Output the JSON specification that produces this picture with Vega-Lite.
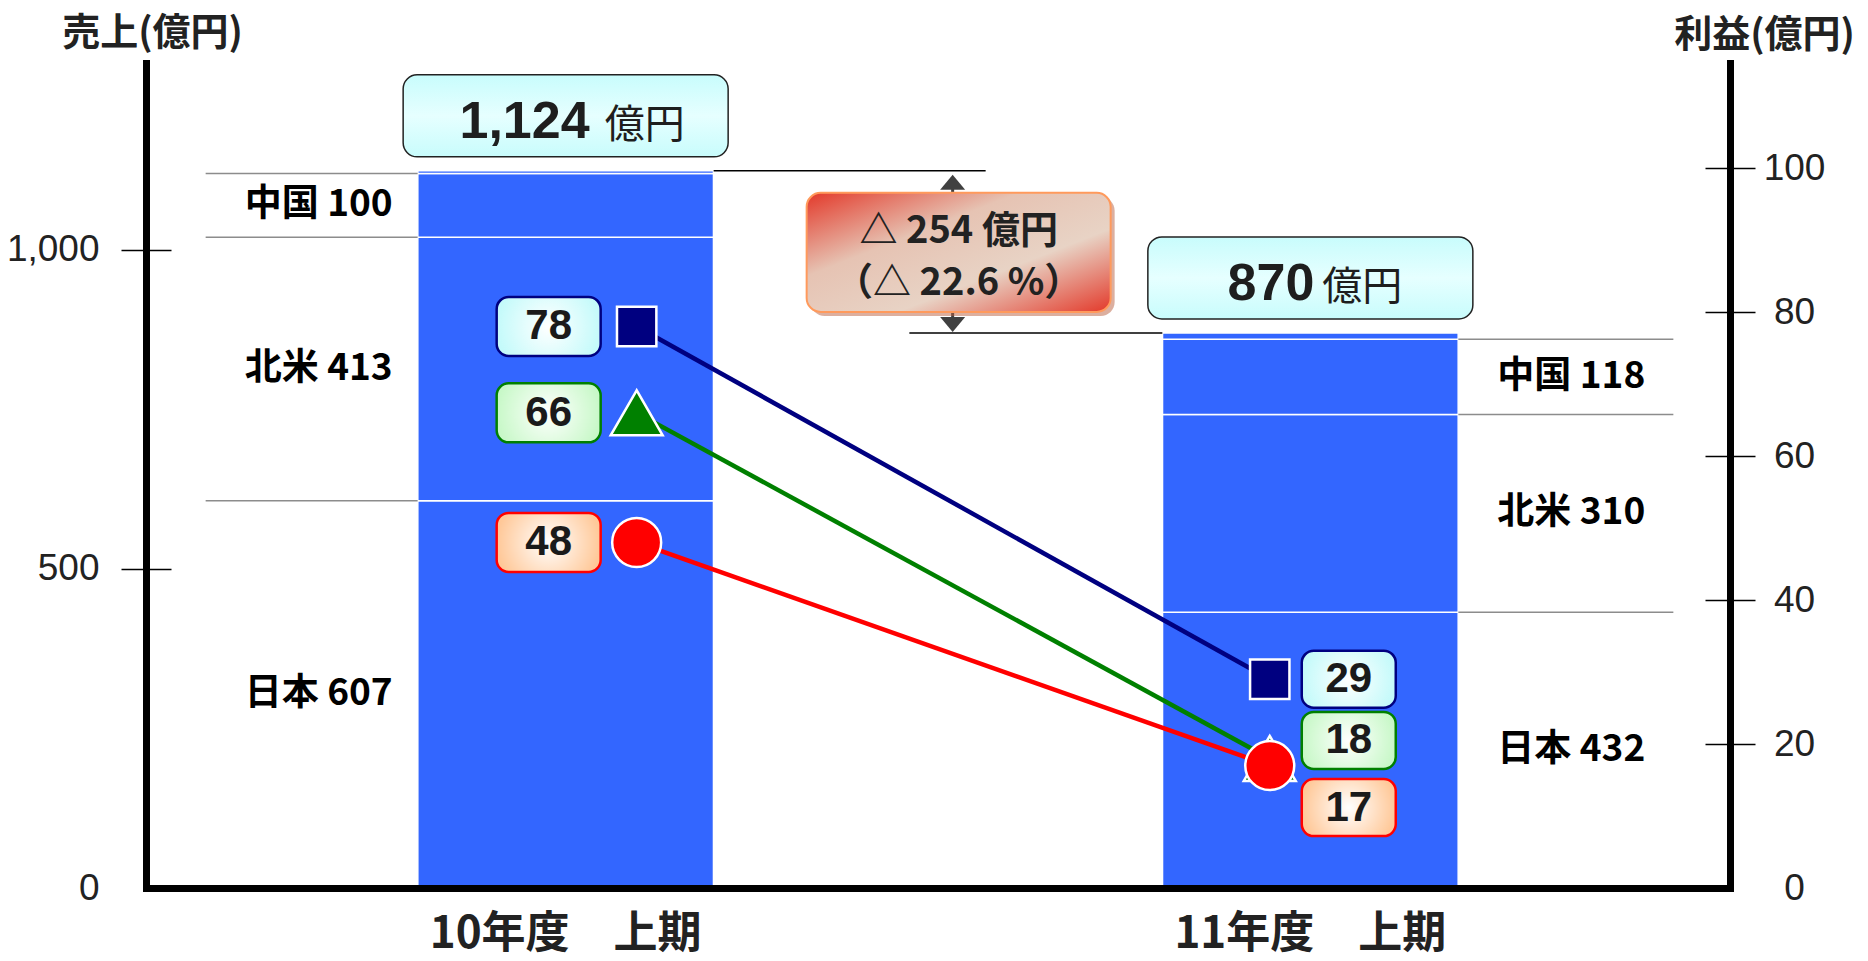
{
  "$schema": "https://vega.github.io/schema/vega-lite/v6.json",
  "width": 1584,
  "height": 825,
  "autosize": {"type": "none"},
  "padding": {"left": 146, "top": 63, "right": 138, "bottom": 73},
  "background": "white",
  "config": {"view": {"stroke": null}, "axis": {"grid": false}},
  "datasets": {
    "sales": [
      {"period": "10年度　上期", "region": "日本", "sales": 607, "ord": 1, "label": "日本 607"},
      {"period": "10年度　上期", "region": "北米", "sales": 413, "ord": 2, "label": "北米 413"},
      {"period": "10年度　上期", "region": "中国", "sales": 100, "ord": 3, "label": "中国 100"},
      {"period": "10年度　上期", "region": "その他", "sales": 4, "ord": 4, "label": ""},
      {"period": "11年度　上期", "region": "日本", "sales": 432, "ord": 1, "label": "日本 432"},
      {"period": "11年度　上期", "region": "北米", "sales": 310, "ord": 2, "label": "北米 310"},
      {"period": "11年度　上期", "region": "中国", "sales": 118, "ord": 3, "label": "中国 118"},
      {"period": "11年度　上期", "region": "その他", "sales": 10, "ord": 4, "label": ""}
    ],
    "totals": [
      {"period": "10年度　上期", "total": 1124, "num": "1,124", "unit": "億円"},
      {"period": "11年度　上期", "total": 870, "num": "870", "unit": "億円"}
    ],
    "delta": [
      {"period": "10年度　上期", "prev": 1124, "curr": 870, "label": "△ 254 億円\n（△ 22.6 %）"}
    ],
    "profit": [
      {"period": "10年度　上期", "series": "営業利益", "profit": 78},
      {"period": "10年度　上期", "series": "経常利益", "profit": 66},
      {"period": "10年度　上期", "series": "当期純利益", "profit": 48},
      {"period": "11年度　上期", "series": "営業利益", "profit": 29},
      {"period": "11年度　上期", "series": "経常利益", "profit": 18},
      {"period": "11年度　上期", "series": "当期純利益", "profit": 17}
    ]
  },
  "layer": [
    {
      "resolve": {"axis": {"y": "independent", "x": "shared"}},
      "layer": [
        {
          "data": {"name": "sales"},
          "mark": {"type": "bar", "fill": "#3366ff", "stroke": "white", "strokeWidth": 1.5},
          "encoding": {
            "x": {"field": "period", "type": "nominal",
              "scale": {"type": "band", "paddingInner": 0.603, "paddingOuter": 0.365},
              "axis": {"title": null, "orient": "bottom", "domainWidth": 7, "domainColor": "black", "domainCap": "square", "ticks": false,
                "labelFont": "Noto Sans CJK JP", "labelFontSize": 44, "labelFontWeight": "bold", "labelColor": "#222", "labelPadding": 24, "labelAngle": 0, "labelLimit": 0, "zindex": 2}},
            "y": {"field": "sales", "type": "quantitative", "stack": "zero",
              "scale": {"domain": [0, 1293], "nice": false},
              "axis": {"orient": "left", "values": [0, 500, 1000], "format": ",d", "ticks": false, "grid": false,
                "domainWidth": 7, "domainColor": "black", "domainCap": "square",
                "labelFont": "Liberation Sans", "labelFontSize": 37, "labelColor": "#222", "labelPadding": 47,
                "title": "売上(億円)", "titleAngle": 0, "titleX": 6, "titleY": -30, "titleAlign": "center", "titleBaseline": "middle",
                "titleFont": "Noto Sans CJK JP", "titleFontSize": 38, "titleFontWeight": "bold", "titleColor": "#222", "zindex": 2}},
            "detail": {"field": "region"},
            "order": {"field": "ord", "type": "quantitative"}
          }
        },
        {
          "data": {"name": "sales"},
          "transform": [
            {"stack": "sales", "groupby": ["period"], "sort": [{"field": "ord", "order": "ascending"}], "as": ["s0", "s1"]},
            {"filter": {"field": "period", "equal": "10年度　上期"}},
            {"filter": {"field": "region", "oneOf": ["日本", "北米", "中国"]}}
          ],
          "mark": {"type": "rule", "color": "#8c8c8c", "strokeWidth": 1.5, "xOffset": -360, "x2Offset": -148},
          "encoding": {
            "x": {"field": "period", "type": "nominal"},
            "x2": {"field": "period"},
            "y": {"field": "s1", "type": "quantitative", "scale": {"domain": [0, 1293], "nice": false},
              "axis": {"orient": "left", "values": [500, 1000], "offset": -25, "tickSize": 50, "tickWidth": 1.5, "tickColor": "black",
                "domain": false, "labels": false, "title": null, "grid": false, "zindex": 2}}
          }
        },
        {
          "data": {"name": "sales"},
          "transform": [
            {"stack": "sales", "groupby": ["period"], "sort": [{"field": "ord", "order": "ascending"}], "as": ["s0", "s1"]},
            {"filter": {"field": "period", "equal": "11年度　上期"}},
            {"filter": {"field": "region", "oneOf": ["日本", "北米", "中国"]}}
          ],
          "mark": {"type": "rule", "color": "#8c8c8c", "strokeWidth": 1.5, "xOffset": 148, "x2Offset": 363},
          "encoding": {
            "x": {"field": "period", "type": "nominal"},
            "x2": {"field": "period"},
            "y": {"field": "s1", "type": "quantitative", "scale": {"domain": [0, 1293], "nice": false}, "axis": null}
          }
        },
        {
          "data": {"name": "sales"},
          "transform": [{"filter": {"field": "period", "equal": "10年度　上期"}}],
          "mark": {"type": "text", "align": "right", "baseline": "middle", "xOffset": -173, "font": "Noto Sans CJK JP", "fontSize": 37, "fontWeight": "bold", "color": "#000"},
          "encoding": {
            "x": {"field": "period", "type": "nominal"},
            "y": {"field": "sales", "type": "quantitative", "stack": "zero", "bandPosition": 0.5, "scale": {"domain": [0, 1293], "nice": false}, "axis": null},
            "detail": {"field": "region"},
            "order": {"field": "ord", "type": "quantitative"},
            "text": {"field": "label"}
          }
        },
        {
          "data": {"name": "sales"},
          "transform": [{"filter": {"field": "period", "equal": "11年度　上期"}}],
          "mark": {"type": "text", "align": "left", "baseline": "middle", "xOffset": 187, "font": "Noto Sans CJK JP", "fontSize": 37, "fontWeight": "bold", "color": "#000"},
          "encoding": {
            "x": {"field": "period", "type": "nominal"},
            "y": {"field": "sales", "type": "quantitative", "stack": "zero", "bandPosition": 0.5, "scale": {"domain": [0, 1293], "nice": false}, "axis": null},
            "detail": {"field": "region"},
            "order": {"field": "ord", "type": "quantitative"},
            "text": {"field": "label"}
          }
        },
        {
          "data": {"name": "totals"},
          "transform": [{"filter": {"field": "period", "equal": "10年度　上期"}}],
          "mark": {"type": "rule", "color": "#000", "strokeWidth": 1.5, "xOffset": 148, "x2Offset": 420},
          "encoding": {
            "x": {"field": "period", "type": "nominal"},
            "x2": {"field": "period"},
            "y": {"field": "total", "type": "quantitative", "scale": {"domain": [0, 1293], "nice": false}, "axis": null}
          }
        },
        {
          "data": {"name": "totals"},
          "transform": [{"filter": {"field": "period", "equal": "11年度　上期"}}],
          "mark": {"type": "rule", "color": "#000", "strokeWidth": 1.5, "xOffset": -401, "x2Offset": -148},
          "encoding": {
            "x": {"field": "period", "type": "nominal"},
            "x2": {"field": "period"},
            "y": {"field": "total", "type": "quantitative", "scale": {"domain": [0, 1293], "nice": false}, "axis": null}
          }
        },
        {
          "data": {"name": "totals"},
          "mark": {"type": "rect", "width": 325, "height": 82, "yOffset": -55, "cornerRadius": 14, "stroke": "#222", "strokeWidth": 1.5,
            "fill": {"gradient": "linear", "x1": 0, "y1": 0, "x2": 0, "y2": 1, "stops": [{"offset": 0, "color": "#c8fcfc"}, {"offset": 0.5, "color": "#e6ffff"}, {"offset": 1, "color": "#c8fcfc"}]}},
          "encoding": {
            "x": {"field": "period", "type": "nominal"},
            "y": {"field": "total", "type": "quantitative", "scale": {"domain": [0, 1293], "nice": false}, "axis": null}
          }
        },
        {
          "data": {"name": "totals"},
          "transform": [{"filter": {"field": "period", "equal": "10年度　上期"}}],
          "mark": {"type": "text", "align": "right", "baseline": "alphabetic", "xOffset": 24, "yOffset": -33, "font": "Liberation Sans Narrow, Liberation Sans", "fontSize": 52, "fontWeight": "bold", "color": "#1e1e1e"},
          "encoding": {
            "x": {"field": "period", "type": "nominal"},
            "y": {"field": "total", "type": "quantitative", "scale": {"domain": [0, 1293], "nice": false}, "axis": null},
            "text": {"field": "num"}
          }
        },
        {
          "data": {"name": "totals"},
          "transform": [{"filter": {"field": "period", "equal": "11年度　上期"}}],
          "mark": {"type": "text", "align": "right", "baseline": "alphabetic", "xOffset": 4, "yOffset": -33, "font": "Liberation Sans Narrow, Liberation Sans", "fontSize": 52, "fontWeight": "bold", "color": "#1e1e1e"},
          "encoding": {
            "x": {"field": "period", "type": "nominal"},
            "y": {"field": "total", "type": "quantitative", "scale": {"domain": [0, 1293], "nice": false}, "axis": null},
            "text": {"field": "num"}
          }
        },
        {
          "data": {"name": "totals"},
          "transform": [{"filter": {"field": "period", "equal": "10年度　上期"}}],
          "mark": {"type": "text", "align": "left", "baseline": "alphabetic", "xOffset": 39, "yOffset": -33, "font": "Noto Sans CJK JP", "fontSize": 40, "color": "#1e1e1e"},
          "encoding": {
            "x": {"field": "period", "type": "nominal"},
            "y": {"field": "total", "type": "quantitative", "scale": {"domain": [0, 1293], "nice": false}, "axis": null},
            "text": {"field": "unit"}
          }
        },
        {
          "data": {"name": "totals"},
          "transform": [{"filter": {"field": "period", "equal": "11年度　上期"}}],
          "mark": {"type": "text", "align": "left", "baseline": "alphabetic", "xOffset": 12, "yOffset": -33, "font": "Noto Sans CJK JP", "fontSize": 40, "color": "#1e1e1e"},
          "encoding": {
            "x": {"field": "period", "type": "nominal"},
            "y": {"field": "total", "type": "quantitative", "scale": {"domain": [0, 1293], "nice": false}, "axis": null},
            "text": {"field": "unit"}
          }
        },
        {
          "data": {"name": "delta"},
          "mark": {"type": "rule", "color": "#404040", "strokeWidth": 3, "xOffset": 387, "yOffset": 14, "y2Offset": -10},
          "encoding": {
            "x": {"field": "period", "type": "nominal"},
            "y": {"field": "prev", "type": "quantitative", "scale": {"domain": [0, 1293], "nice": false}, "axis": null},
            "y2": {"field": "curr"}
          }
        },
        {
          "data": {"name": "delta"},
          "mark": {"type": "point", "shape": "M0,-0.6L1,0.6L-1,0.6Z", "size": 625, "filled": true, "fill": "#404040", "strokeWidth": 0, "opacity": 1, "xOffset": 387, "yOffset": 11.5},
          "encoding": {
            "x": {"field": "period", "type": "nominal"},
            "y": {"field": "prev", "type": "quantitative", "scale": {"domain": [0, 1293], "nice": false}, "axis": null}
          }
        },
        {
          "data": {"name": "delta"},
          "mark": {"type": "point", "shape": "M0,0.6L1,-0.6L-1,-0.6Z", "size": 625, "filled": true, "fill": "#404040", "strokeWidth": 0, "opacity": 1, "xOffset": 387, "yOffset": -8.5},
          "encoding": {
            "x": {"field": "period", "type": "nominal"},
            "y": {"field": "curr", "type": "quantitative", "scale": {"domain": [0, 1293], "nice": false}, "axis": null}
          }
        },
        {
          "data": {"name": "delta"},
          "mark": {"type": "rect", "width": 304, "xOffset": 397, "yOffset": 26, "y2Offset": -17, "cornerRadius": 14, "fill": "#b9603f", "opacity": 0.5},
          "encoding": {
            "x": {"field": "period", "type": "nominal"},
            "y": {"field": "prev", "type": "quantitative", "scale": {"domain": [0, 1293], "nice": false}, "axis": null},
            "y2": {"field": "curr"}
          }
        },
        {
          "data": {"name": "delta"},
          "mark": {"type": "rect", "width": 304, "xOffset": 393, "yOffset": 22, "y2Offset": -21, "cornerRadius": 14, "stroke": "#ff9a5c", "strokeWidth": 2,
            "fill": {"gradient": "linear", "x1": 0, "y1": 0, "x2": 1, "y2": 1, "stops": [{"offset": 0, "color": "#e3392a"}, {"offset": 0.35, "color": "#e6c3b3"}, {"offset": 0.65, "color": "#e8d3c5"}, {"offset": 1, "color": "#e3392a"}]}},
          "encoding": {
            "x": {"field": "period", "type": "nominal"},
            "y": {"field": "prev", "type": "quantitative", "scale": {"domain": [0, 1293], "nice": false}, "axis": null},
            "y2": {"field": "curr"}
          }
        },
        {
          "data": {"name": "delta"},
          "mark": {"type": "text", "align": "center", "baseline": "middle", "lineBreak": "\n", "lineHeight": 52, "xOffset": 393, "yOffset": 61, "font": "Noto Sans CJK JP", "fontSize": 38, "fontWeight": "bold", "color": "#222"},
          "encoding": {
            "x": {"field": "period", "type": "nominal"},
            "y": {"field": "prev", "type": "quantitative", "scale": {"domain": [0, 1293], "nice": false}, "axis": null},
            "text": {"field": "label"}
          }
        }
      ]
    },
    {
      "resolve": {"axis": {"y": "independent"}},
      "layer": [
        {
          "data": {"name": "profit"},
          "mark": {"type": "line", "strokeWidth": 4.5},
          "encoding": {
            "x": {"field": "period", "type": "nominal", "scale": {"type": "point", "padding": 0.751, "align": 0.516}, "axis": null},
            "y": {"field": "profit", "type": "quantitative", "scale": {"domain": [0, 114.6], "nice": false},
              "axis": {"orient": "right", "values": [20, 40, 60, 80, 100], "offset": -25, "tickSize": 50, "tickWidth": 1.5, "tickColor": "black",
                "domain": false, "labels": false, "title": null, "grid": false, "zindex": 2}},
            "color": {"field": "series", "type": "nominal", "scale": {"domain": ["営業利益", "経常利益", "当期純利益"], "range": ["#000080", "#008000", "#ff0000"]}, "legend": null}
          }
        },
        {
          "data": {"name": "profit"},
          "mark": {"type": "point", "filled": true, "stroke": "white", "strokeWidth": 2.5, "opacity": 1},
          "encoding": {
            "x": {"field": "period", "type": "nominal", "axis": null},
            "y": {"field": "profit", "type": "quantitative", "scale": {"domain": [0, 114.6], "nice": false},
              "axis": {"orient": "right", "values": [0, 20, 40, 60, 80, 100], "ticks": false, "grid": false,
                "domainWidth": 7, "domainColor": "black", "domainCap": "square",
                "labelFont": "Liberation Sans", "labelFontSize": 37, "labelColor": "#222", "labelPadding": 64, "labelAlign": "center",
                "title": "利益(億円)", "titleAngle": 0, "titleX": 34, "titleY": -28, "titleAlign": "center", "titleBaseline": "middle",
                "titleFont": "Noto Sans CJK JP", "titleFontSize": 38, "titleFontWeight": "bold", "titleColor": "#222", "zindex": 2}},
            "color": {"field": "series", "type": "nominal", "scale": {"domain": ["営業利益", "経常利益", "当期純利益"], "range": ["#000080", "#008000", "#ff0000"]}, "legend": null},
            "shape": {"field": "series", "type": "nominal", "scale": {"type": "ordinal", "domain": ["営業利益", "経常利益", "当期純利益"], "range": ["square", "triangle-up", "circle"]}, "legend": null},
            "size": {"field": "series", "type": "nominal", "scale": {"type": "ordinal", "domain": ["営業利益", "経常利益", "当期純利益"], "range": [1550, 2700, 2400]}, "legend": null}
          }
        },
        {
          "data": {"name": "profit"},
          "transform": [{"filter": {"and": [{"field": "period", "equal": "10年度　上期"}, {"field": "series", "equal": "営業利益"}]}}],
          "mark": {"type": "rect", "width": 104, "height": 59, "xOffset": -88, "cornerRadius": 12, "stroke": "#000080", "strokeWidth": 2.5,
            "fill": {"gradient": "radial", "stops": [{"offset": 0, "color": "#ffffff"}, {"offset": 1, "color": "#c4fafa"}]}},
          "encoding": {
            "x": {"field": "period", "type": "nominal", "axis": null},
            "y": {"field": "profit", "type": "quantitative", "scale": {"domain": [0, 114.6], "nice": false}, "axis": null}
          }
        },
        {
          "data": {"name": "profit"},
          "transform": [{"filter": {"and": [{"field": "period", "equal": "10年度　上期"}, {"field": "series", "equal": "経常利益"}]}}],
          "mark": {"type": "rect", "width": 104, "height": 59, "xOffset": -88, "cornerRadius": 12, "stroke": "#008000", "strokeWidth": 2.5,
            "fill": {"gradient": "radial", "stops": [{"offset": 0, "color": "#ffffff"}, {"offset": 1, "color": "#c8f8c8"}]}},
          "encoding": {
            "x": {"field": "period", "type": "nominal", "axis": null},
            "y": {"field": "profit", "type": "quantitative", "scale": {"domain": [0, 114.6], "nice": false}, "axis": null}
          }
        },
        {
          "data": {"name": "profit"},
          "transform": [{"filter": {"and": [{"field": "period", "equal": "10年度　上期"}, {"field": "series", "equal": "当期純利益"}]}}],
          "mark": {"type": "rect", "width": 104, "height": 59, "xOffset": -88, "cornerRadius": 12, "stroke": "#ff0000", "strokeWidth": 2.5,
            "fill": {"gradient": "radial", "stops": [{"offset": 0, "color": "#ffffff"}, {"offset": 1, "color": "#ffc898"}]}},
          "encoding": {
            "x": {"field": "period", "type": "nominal", "axis": null},
            "y": {"field": "profit", "type": "quantitative", "scale": {"domain": [0, 114.6], "nice": false}, "axis": null}
          }
        },
        {
          "data": {"name": "profit"},
          "transform": [{"filter": {"and": [{"field": "period", "equal": "11年度　上期"}, {"field": "series", "equal": "営業利益"}]}}],
          "mark": {"type": "rect", "width": 94, "height": 57, "xOffset": 79, "cornerRadius": 12, "stroke": "#000080", "strokeWidth": 2.5,
            "fill": {"gradient": "radial", "stops": [{"offset": 0, "color": "#ffffff"}, {"offset": 1, "color": "#c4fafa"}]}},
          "encoding": {
            "x": {"field": "period", "type": "nominal", "axis": null},
            "y": {"field": "profit", "type": "quantitative", "scale": {"domain": [0, 114.6], "nice": false}, "axis": null}
          }
        },
        {
          "data": {"name": "profit"},
          "transform": [{"filter": {"and": [{"field": "period", "equal": "11年度　上期"}, {"field": "series", "equal": "経常利益"}]}}],
          "mark": {"type": "rect", "width": 94, "height": 57, "xOffset": 79, "yOffset": -18, "cornerRadius": 12, "stroke": "#008000", "strokeWidth": 2.5,
            "fill": {"gradient": "radial", "stops": [{"offset": 0, "color": "#ffffff"}, {"offset": 1, "color": "#c8f8c8"}]}},
          "encoding": {
            "x": {"field": "period", "type": "nominal", "axis": null},
            "y": {"field": "profit", "type": "quantitative", "scale": {"domain": [0, 114.6], "nice": false}, "axis": null}
          }
        },
        {
          "data": {"name": "profit"},
          "transform": [{"filter": {"and": [{"field": "period", "equal": "11年度　上期"}, {"field": "series", "equal": "当期純利益"}]}}],
          "mark": {"type": "rect", "width": 94, "height": 57, "xOffset": 79, "yOffset": 42, "cornerRadius": 12, "stroke": "#ff0000", "strokeWidth": 2.5,
            "fill": {"gradient": "radial", "stops": [{"offset": 0, "color": "#ffffff"}, {"offset": 1, "color": "#ffc898"}]}},
          "encoding": {
            "x": {"field": "period", "type": "nominal", "axis": null},
            "y": {"field": "profit", "type": "quantitative", "scale": {"domain": [0, 114.6], "nice": false}, "axis": null}
          }
        },
        {
          "data": {"name": "profit"},
          "transform": [{"filter": {"field": "period", "equal": "10年度　上期"}}],
          "mark": {"type": "text", "align": "center", "baseline": "middle", "xOffset": -88, "font": "Liberation Sans Narrow, Liberation Sans", "fontSize": 42, "fontWeight": "bold", "color": "#1a1a1a"},
          "encoding": {
            "x": {"field": "period", "type": "nominal", "axis": null},
            "y": {"field": "profit", "type": "quantitative", "scale": {"domain": [0, 114.6], "nice": false}, "axis": null},
            "text": {"field": "profit", "type": "quantitative"}
          }
        },
        {
          "data": {"name": "profit"},
          "transform": [{"filter": {"and": [{"field": "period", "equal": "11年度　上期"}, {"field": "series", "equal": "営業利益"}]}}],
          "mark": {"type": "text", "align": "center", "baseline": "middle", "xOffset": 79, "font": "Liberation Sans Narrow, Liberation Sans", "fontSize": 42, "fontWeight": "bold", "color": "#1a1a1a"},
          "encoding": {
            "x": {"field": "period", "type": "nominal", "axis": null},
            "y": {"field": "profit", "type": "quantitative", "scale": {"domain": [0, 114.6], "nice": false}, "axis": null},
            "text": {"field": "profit", "type": "quantitative"}
          }
        },
        {
          "data": {"name": "profit"},
          "transform": [{"filter": {"and": [{"field": "period", "equal": "11年度　上期"}, {"field": "series", "equal": "経常利益"}]}}],
          "mark": {"type": "text", "align": "center", "baseline": "middle", "xOffset": 79, "yOffset": -18, "font": "Liberation Sans Narrow, Liberation Sans", "fontSize": 42, "fontWeight": "bold", "color": "#1a1a1a"},
          "encoding": {
            "x": {"field": "period", "type": "nominal", "axis": null},
            "y": {"field": "profit", "type": "quantitative", "scale": {"domain": [0, 114.6], "nice": false}, "axis": null},
            "text": {"field": "profit", "type": "quantitative"}
          }
        },
        {
          "data": {"name": "profit"},
          "transform": [{"filter": {"and": [{"field": "period", "equal": "11年度　上期"}, {"field": "series", "equal": "当期純利益"}]}}],
          "mark": {"type": "text", "align": "center", "baseline": "middle", "xOffset": 79, "yOffset": 42, "font": "Liberation Sans Narrow, Liberation Sans", "fontSize": 42, "fontWeight": "bold", "color": "#1a1a1a"},
          "encoding": {
            "x": {"field": "period", "type": "nominal", "axis": null},
            "y": {"field": "profit", "type": "quantitative", "scale": {"domain": [0, 114.6], "nice": false}, "axis": null},
            "text": {"field": "profit", "type": "quantitative"}
          }
        }
      ]
    }
  ],
  "resolve": {"scale": {"x": "independent", "y": "independent"}, "axis": {"x": "independent", "y": "independent"}}
}
